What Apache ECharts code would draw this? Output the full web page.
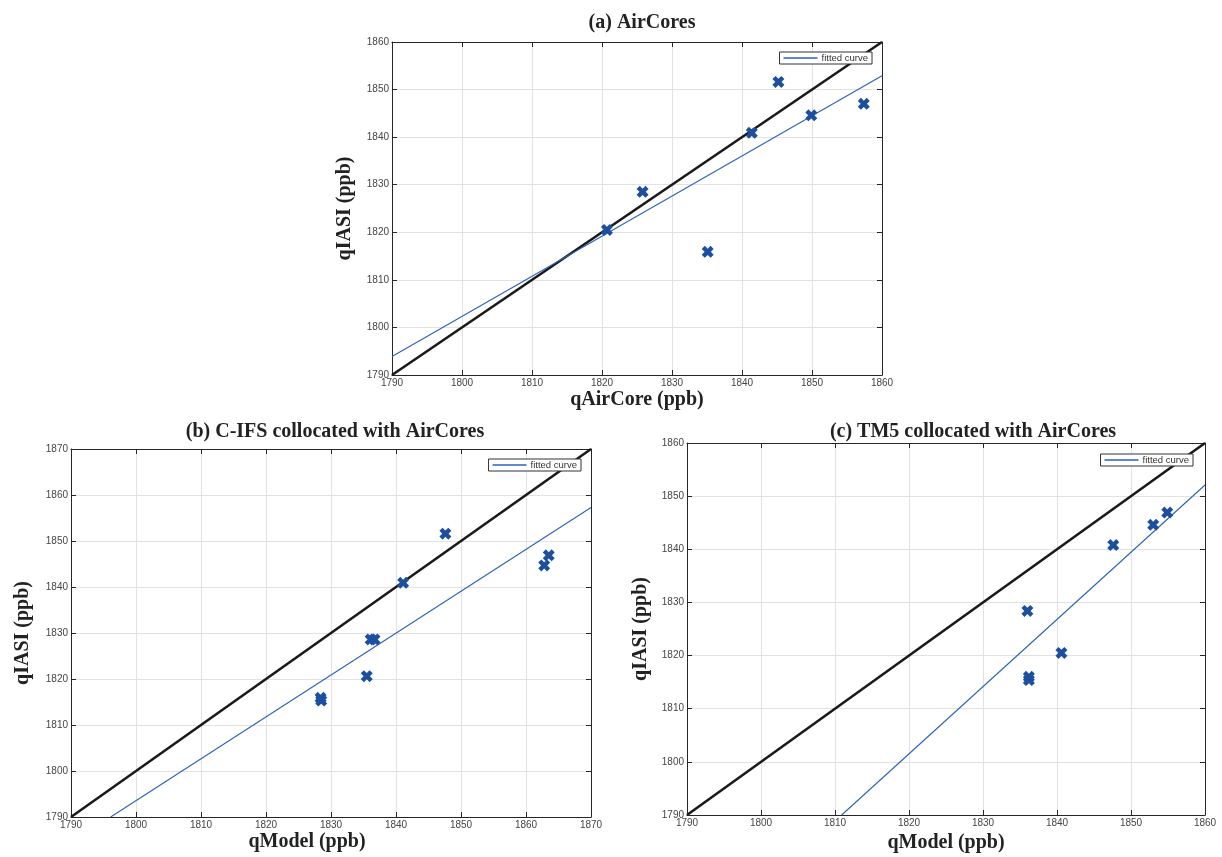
<!DOCTYPE html>
<html><head><meta charset="utf-8">
<script src="https://cdn.jsdelivr.net/npm/echarts@6/dist/echarts.min.js"></script>
<style>html,body{margin:0;padding:0;background:#fff}#c{width:1222px;height:857px}</style>
</head><body><div id="c"></div>
<script>
// ---- data ----
const titles = ['(a) AirCores', '(b) C-IFS collocated with AirCores', '(c) TM5 collocated with AirCores'];
const xNames = ['qAirCore (ppb)', 'qModel (ppb)', 'qModel (ppb)'];
const yName = 'qIASI (ppb)';
const axisMinA = 1790, axisMaxA = 1860;
const axisMinB = 1790, axisMaxB = 1870;
const axisMinC = 1790, axisMaxC = 1860;
const tickStep = 10;

const aX = [1820.7, 1825.8, 1835.1, 1841.4, 1845.2, 1849.9, 1857.4];
const aY = [1820.5, 1828.5, 1815.9, 1840.9, 1851.6, 1844.6, 1847.0];
const bX = [1828.4, 1828.5, 1835.5, 1836.1, 1836.7, 1841.1, 1847.6, 1862.8, 1863.5];
const bY = [1815.9, 1815.3, 1820.6, 1828.6, 1828.6, 1840.9, 1851.6, 1844.7, 1846.9];
const cX = [1836.0, 1836.2, 1836.2, 1840.6, 1847.6, 1853.0, 1854.9];
const cY = [1828.4, 1816.0, 1815.4, 1820.5, 1840.8, 1844.6, 1846.9];

// identity line endpoints and fitted-curve endpoints (value space)
const idA = [[1790, 1790], [1860, 1860]];
const idB = [[1790, 1790], [1870, 1870]];
const idC = [[1790, 1790], [1860, 1860]];
const fitA = [[1790, 1793.9], [1860, 1852.9]];
const fitB = [[1796.1, 1790], [1870, 1857.3]];
const fitC = [[1810.9, 1790], [1860, 1852.1]];

// ---- layout ----
const grids = [
  {left: 392, top: 42, width: 490, height: 333},
  {left: 71, top: 449, width: 520, height: 368},
  {left: 687, top: 443, width: 518, height: 372}
];
const ranges = [[axisMinA, axisMaxA], [axisMinB, axisMaxB], [axisMinC, axisMaxC]];
const pts = [[aX, aY], [bX, bY], [cX, cY]];
const ids = [idA, idB, idC];
const fits = [fitA, fitB, fitC];
const titlePos = [[637, 8], [330, 417], [968, 417]];
const xNameGap = [15, 15, 18];
const xNamePad = [[0,0,0,0], [0,48,0,0], [0,0,0,0]];
const yNameGap = [37, 38, 36];
const legendRight = [350, 641, 29];
const legendTop = [52, 459, 454];

const XPATH = 'path://M0,2.6 L2.6,0 L5,2.4 L7.4,0 L10,2.6 L7.6,5 L10,7.4 L7.4,10 L5,7.6 L2.6,10 L0,7.4 L2.4,5 Z';
const labelStyle = {fontFamily: 'Liberation Sans, Arial', fontSize: 10, color: '#444'};
const nameStyle = {fontFamily: 'Liberation Serif, serif', fontWeight: 'bold', fontSize: 20, color: '#222'};

const option = {
  backgroundColor: '#fff',
  animation: false,
  title: titles.map((t, i) => ({
    text: t, left: titlePos[i][0], top: titlePos[i][1], textAlign: 'center',
    textStyle: {fontFamily: 'Liberation Serif, serif', fontWeight: 'bold', fontSize: 20, color: '#222'}
  })),
  legend: [0, 1, 2].map(i => ({
    data: [{name: 'fitted curve', icon: 'rect'}],
    right: legendRight[i], top: legendTop[i],
    orient: 'horizontal', itemWidth: 34, itemHeight: 1.5, itemGap: 4,
    padding: [1, 4, 1, 4], borderColor: '#333', borderWidth: 1, backgroundColor: '#fff',
    selectedMode: false,
    textStyle: {fontFamily: 'Liberation Sans, Arial', fontSize: 9.5, color: '#333', padding: [0, 0, 0, -1]}
  })),
  grid: grids.map(g => Object.assign({containLabel: false}, g)),
  xAxis: [],
  yAxis: [],
  series: []
};

const fmt = v => String(v);

for (let i = 0; i < 3; i++) {
  const [mn, mx] = ranges[i];
  option.xAxis.push({
    type: 'value', gridIndex: i, min: mn, max: mx, interval: tickStep,
    position: 'bottom',
    name: xNames[i], nameLocation: 'middle', nameGap: xNameGap[i],
    nameTextStyle: Object.assign({padding: xNamePad[i]}, nameStyle),
    axisLine: {show: true, lineStyle: {color: '#262626', width: 1}},
    axisTick: {show: true, inside: true, length: 5, lineStyle: {color: '#262626'}},
    axisLabel: Object.assign({margin: 3, formatter: fmt}, labelStyle),
    splitLine: {show: true, lineStyle: {color: '#e2e2e2', width: 1}}
  });
  option.xAxis.push({
    type: 'value', gridIndex: i, min: mn, max: mx, interval: tickStep,
    position: 'top',
    axisLine: {show: true, lineStyle: {color: '#262626', width: 1}},
    axisTick: {show: true, inside: true, length: 5, lineStyle: {color: '#262626'}},
    axisLabel: {show: false}, splitLine: {show: false}
  });
  option.yAxis.push({
    type: 'value', gridIndex: i, min: mn, max: mx, interval: tickStep,
    position: 'left',
    name: yName, nameLocation: 'middle', nameGap: yNameGap[i], nameRotate: 90,
    nameTextStyle: nameStyle,
    axisLine: {show: true, lineStyle: {color: '#262626', width: 1}},
    axisTick: {show: true, inside: true, length: 5, lineStyle: {color: '#262626'}},
    axisLabel: Object.assign({margin: 3, formatter: fmt}, labelStyle),
    splitLine: {show: true, lineStyle: {color: '#e2e2e2', width: 1}}
  });
  option.yAxis.push({
    type: 'value', gridIndex: i, min: mn, max: mx, interval: tickStep,
    position: 'right',
    axisLine: {show: true, lineStyle: {color: '#262626', width: 1}},
    axisTick: {show: true, inside: true, length: 5, lineStyle: {color: '#262626'}},
    axisLabel: {show: false}, splitLine: {show: false}
  });
  const xi = i * 2, yi = i * 2;
  option.series.push({
    type: 'line', name: 'identity', xAxisIndex: xi, yAxisIndex: yi,
    data: ids[i], showSymbol: false, symbol: 'none',
    lineStyle: {color: '#1a1a1a', width: 2.6}, z: 3
  });
  option.series.push({
    type: 'line', name: 'fitted curve', xAxisIndex: xi, yAxisIndex: yi,
    data: fits[i], showSymbol: false, symbol: 'none',
    itemStyle: {color: '#2a62b8'},
    lineStyle: {color: '#2a62b8', width: 1.1}, z: 4
  });
  option.series.push({
    type: 'scatter', name: 'data', xAxisIndex: xi, yAxisIndex: yi,
    data: pts[i][0].map((x, k) => [x, pts[i][1][k]]),
    symbol: XPATH, symbolSize: 12,
    itemStyle: {color: '#1d4f9f', opacity: 1}, z: 5
  });
}

const chart = echarts.init(document.getElementById('c'), null, {renderer: 'canvas'});
chart.setOption(option);
</script>
</body></html>
